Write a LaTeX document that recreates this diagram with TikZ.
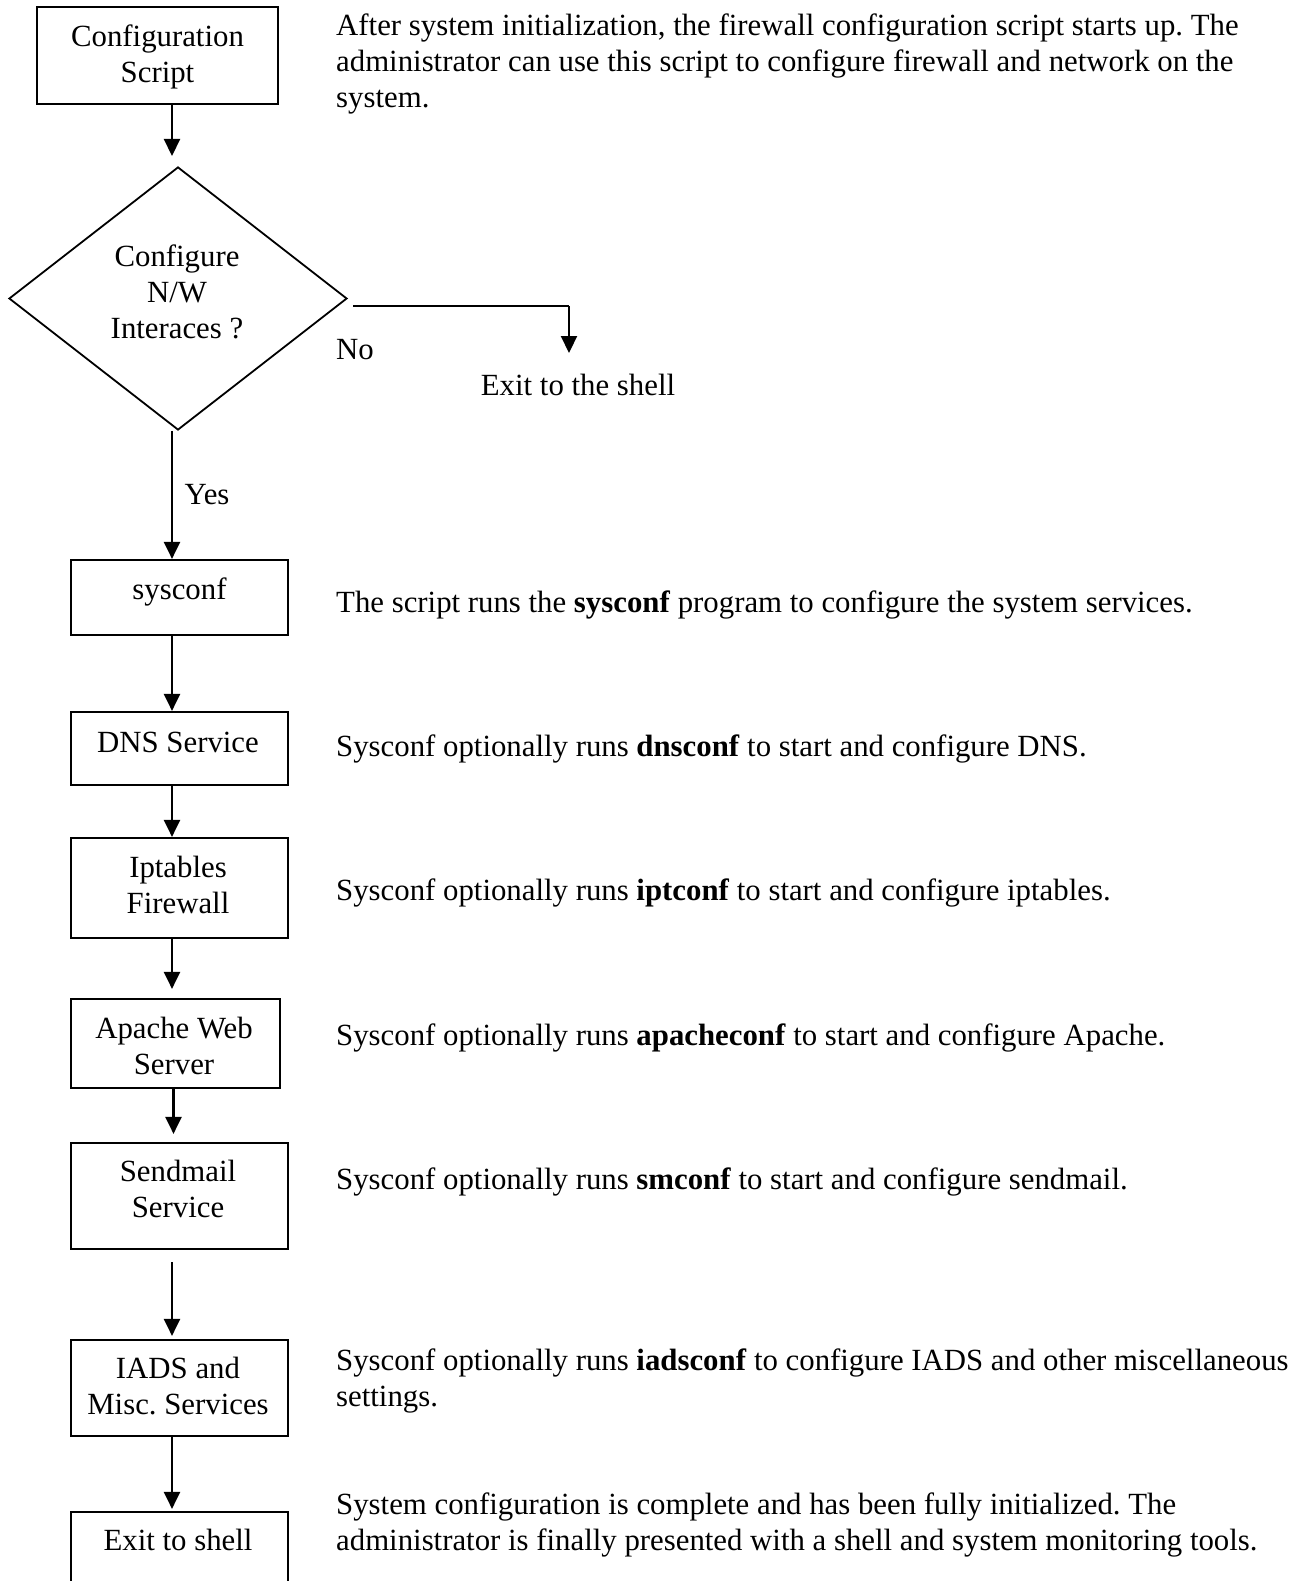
\documentclass[tikz,border=0pt]{standalone}
\usepackage{fontspec}
\setmainfont{Liberation Serif}
\usetikzlibrary{shapes.geometric,arrows.meta}
\frenchspacing
\begin{document}
\begin{tikzpicture}[x=1pt,y=-1pt,
  box/.style={draw,rectangle,line width=2.2pt,inner sep=0pt},
  lbl/.style={inner sep=0pt,anchor=base,align=center,font=\fontsize{30.8}{36}\selectfont},
  note/.style={inner sep=0pt,anchor=base west,align=left,font=\fontsize{30.8}{36}\selectfont},
  arr/.style={line width=2.2pt,-{Triangle[width=16pt,length=17pt]}}]
\useasboundingbox (0,0) rectangle (1307,1581);
\clip (0,0) rectangle (1307,1581);

% x position shared by the vertical connectors
\coordinate (ax) at (172,0);

% boxes of the flow
\node[box,minimum width=241pt,minimum height=97pt] (cfg) at (157.5,55.5) {};
\node[draw,diamond,line width=1.8pt,inner sep=0pt,minimum width=338pt,minimum height=263pt] (dec) at (178,298.5) {};
\node[box,minimum width=217pt,minimum height=75pt] (sys) at (179.5,597.5) {};
\node[box,minimum width=217pt,minimum height=73pt] (dns) at (179.5,748.5) {};
\node[box,minimum width=217pt,minimum height=100pt] (ipt) at (179.5,888) {};
\node[box,minimum width=209pt,minimum height=89pt] (apa) at (175.5,1043.5) {};
\node[box,minimum width=217pt,minimum height=106pt] (smt) at (179.5,1196) {};
\node[box,minimum width=217pt,minimum height=96pt] (iad) at (179.5,1388) {};
\node[box,minimum width=217pt,minimum height=120pt] (ext) at (179.5,1572) {};

% box captions (a multi-line caption sits on the baseline of its last line)
\node[lbl] (cfgt) at (157.5,83) {Configuration\\Script};
\node[lbl] (dect) at (177,338) {Configure\\N/W\\Interaces ?};
\node[lbl] (syst) at (179.5,599) {sysconf};
\node[lbl] (dnst) at (178,752) {DNS Service};
\node[lbl] (iptt) at (178,913) {Iptables\\Firewall};
\node[lbl] (apat) at (174,1074) {Apache Web\\Server};
\node[lbl] (smtt) at (178,1217) {Sendmail\\Service};
\node[lbl] (iadt) at (178,1414) {IADS and\\Misc. Services};
\node[lbl] (extt) at (178,1550) {Exit to shell};

% branch labels
\node[lbl] (yes) at (207,504) {Yes};
\node[lbl] (no) at (355,359) {No};
\node[lbl] (shell) at (578,395) {Exit to the shell};

% free ends of connectors
\coordinate (c1) at (172,156);
\coordinate (nostart) at (353,306);
\coordinate (noend) at (569,353);

% connectors (yshift is in page direction: positive moves up)
\draw[arr] (cfg.south -| ax) -- (c1);
\draw[arr] (dec.south -| ax) -- (sys.north -| ax);
\draw[line width=2.2pt] (nostart) -| (noend |- nostart);
\draw[arr] (noend |- nostart) -- (noend);
\draw[arr] (sys.south -| ax) -- (dns.north -| ax);
\draw[arr] (dns.south -| ax) -- (ipt.north -| ax);
\draw[arr] (ipt.south -| ax) -- ([yshift=9pt]apa.north -| ax);
\draw[arr] ([xshift=1.5pt]apa.south -| ax) -- ([xshift=1.5pt,yshift=8pt]smt.north -| ax);
\draw[arr] ([yshift=-12pt]smt.south -| ax) -- ([yshift=3pt]iad.north -| ax);
\draw[arr] (iad.south -| ax) -- ([yshift=2pt]ext.north -| ax);

% explanations beside the flow
\node[note] (n1) at (336,108) {After system initialization, the firewall configuration script starts up. The\\administrator can use this script to configure firewall and network on the\\system.};
\node[note] (n2) at (336,612) {The script runs the \textbf{sysconf} program to configure the system services.};
\node[note] (n3) at (336,756) {Sysconf optionally runs \textbf{dnsconf} to start and configure DNS.};
\node[note] (n4) at (336,900) {Sysconf optionally runs \textbf{iptconf} to start and configure iptables.};
\node[note] (n5) at (336,1045) {Sysconf optionally runs \textbf{apacheconf} to start and configure Apache.};
\node[note] (n6) at (336,1189) {Sysconf optionally runs \textbf{smconf} to start and configure sendmail.};
\node[note] (n7) at (336,1406) {Sysconf optionally runs \textbf{iadsconf} to configure IADS and other miscellaneous\\settings.};
\node[note] (n8) at (336,1550) {System configuration is complete and has been fully initialized. The\\administrator is finally presented with a shell and system monitoring tools.};
\end{tikzpicture}
\end{document}
